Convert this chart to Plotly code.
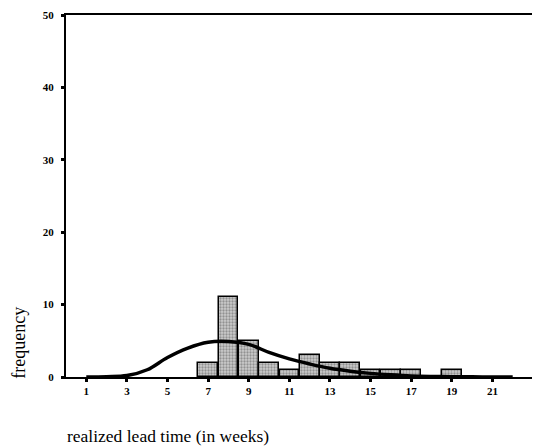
import plotly.graph_objects as go

# Histogram bars (bin centre, frequency)
bin_centers = [7, 8, 9, 10, 11, 12, 13, 14, 15, 16, 17, 19]
frequencies = [2, 11, 5, 2, 1, 3, 2, 2, 1, 1, 1, 1]

# Fitted density curve
curve_x = [1, 2, 3, 4, 5, 6, 7, 8, 9, 10, 11, 12, 13, 14, 15, 16, 17, 18, 19, 20, 21, 22]
curve_y = [0, 0.05, 0.2, 1.0, 2.7, 4.0, 4.8, 4.9, 4.5, 3.4, 2.5, 1.8, 1.2, 0.8, 0.5,
           0.3, 0.15, 0.08, 0.04, 0.02, 0.01, 0]

x_ticks = [1, 3, 5, 7, 9, 11, 13, 15, 17, 19, 21]
y_ticks = [0, 10, 20, 30, 40, 50]

font_family = "Liberation Serif"

fig = go.Figure()
fig.add_trace(go.Bar(
    x=bin_centers, y=frequencies, width=0.97,
    marker=dict(
        color="#c0c0c0",
        line=dict(color="black", width=1.5),
        pattern=dict(shape=".", fgcolor="#555555", bgcolor="#cccccc", size=3, solidity=0.45),
    ),
    showlegend=False,
))
fig.add_trace(go.Scatter(
    x=curve_x, y=curve_y, mode="lines",
    line=dict(color="black", width=3.5, shape="spline", smoothing=1.0),
    showlegend=False,
))

fig.update_layout(
    width=532, height=439,
    margin=dict(l=58, r=7, t=7, b=70),
    paper_bgcolor="white", plot_bgcolor="white",
    font=dict(family=font_family, color="black", size=10),
    bargap=0,
    xaxis=dict(
        range=[0, 23], tickvals=x_ticks, ticktext=[str(v) for v in x_ticks],
        showgrid=False, zeroline=False, automargin=False,
        showline=True, linecolor="black", linewidth=2, mirror=True,
        ticks="outside", ticklen=3, tickwidth=2.5, tickcolor="black",
        tickfont=dict(family=font_family, size=11, color="black", weight="bold"),
        ticklabelstandoff=0,
    ),
    yaxis=dict(
        range=[0, 50], tickvals=y_ticks, ticktext=[str(v) for v in y_ticks],
        showgrid=False, zeroline=False, automargin=False,
        showline=True, linecolor="black", linewidth=2, mirror=True,
        ticks="outside", ticklen=3, tickwidth=3, tickcolor="black",
        tickfont=dict(family=font_family, size=11, color="black", weight="bold"),
        ticklabelstandoff=5,
    ),
    annotations=[
        dict(text="frequency", xref="paper", yref="paper", x=-0.1006, y=0.095,
             xanchor="center", yanchor="middle", textangle=-90, showarrow=False,
             font=dict(family=font_family, size=18, color="black")),
        dict(text="realized lead time (in weeks)", xref="paper", yref="paper",
             x=-0.002, y=-0.163, xanchor="left", yanchor="middle", showarrow=False,
             font=dict(family=font_family, size=17.5, color="black")),
    ],
)

fig.write_html("out.html")
